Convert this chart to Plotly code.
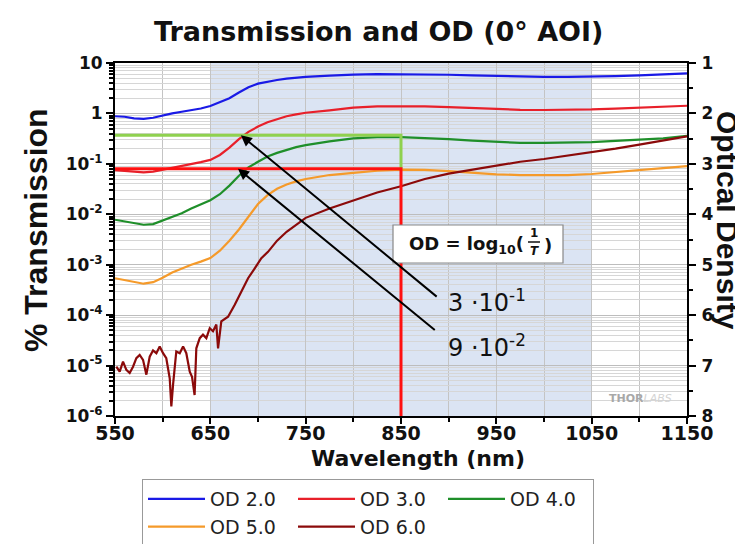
import math
import plotly.graph_objects as go

# ---------------- data ----------------
wl = [550, 560, 570, 580, 590, 600, 610, 620, 630, 640, 650, 660, 670, 680, 690,
      700, 710, 720, 730, 740, 750, 775, 800, 825, 850, 875, 900, 925, 950, 975,
      1000, 1025, 1050, 1075, 1100, 1125, 1150]

od2 = [0.88, 0.86, 0.80, 0.78, 0.82, 0.92, 1.0, 1.08, 1.15, 1.25, 1.4, 1.65, 2.0, 2.6, 3.3,
       3.9, 4.3, 4.6, 4.9, 5.1, 5.3, 5.6, 5.9, 6.0, 6.0, 5.95, 5.85, 5.7, 5.5, 5.35,
       5.3, 5.3, 5.35, 5.5, 5.7, 5.9, 6.2]

od3 = [0.075, 0.072, 0.070, 0.068, 0.070, 0.076, 0.082, 0.090, 0.098, 0.108, 0.12, 0.15, 0.21, 0.31, 0.43,
       0.55, 0.67, 0.78, 0.88, 0.96, 1.03, 1.15, 1.3, 1.38, 1.4, 1.38, 1.33, 1.27, 1.22, 1.18,
       1.17, 1.18, 1.2, 1.25, 1.3, 1.35, 1.42]

od4 = [0.0078, 0.0072, 0.0066, 0.0062, 0.0064, 0.0075, 0.009, 0.0105, 0.013, 0.016, 0.019, 0.025, 0.037, 0.058, 0.085,
       0.11, 0.14, 0.165, 0.19, 0.215, 0.235, 0.28, 0.32, 0.34, 0.34, 0.33, 0.31, 0.29, 0.27, 0.26,
       0.26, 0.265, 0.27, 0.285, 0.30, 0.32, 0.36]

od5 = [5.4e-4, 5.0e-4, 4.5e-4, 4.2e-4, 4.5e-4, 5.5e-4, 7e-4, 8.5e-4, 1.0e-3, 1.15e-3, 1.35e-3, 1.9e-3, 3.0e-3, 5.0e-3, 9e-3,
       1.6e-2, 2.4e-2, 3.2e-2, 3.9e-2, 4.5e-2, 5.0e-2, 6.0e-2, 6.6e-2, 7.3e-2, 7.7e-2, 7.6e-2, 7.2e-2, 6.7e-2, 6.2e-2, 6.0e-2,
       5.9e-2, 6.0e-2, 6.3e-2, 6.8e-2, 7.4e-2, 8.2e-2, 9.0e-2]

wl6 = [551.4, 554.9, 558.4, 561.9, 565.4, 568.9, 572.4, 575.9, 579.4, 582.9, 586.4, 589.9, 593.4, 596.9,
       600.4, 603.8, 607.4, 609.1, 610.9, 614.3, 617.9, 621.4, 624.8, 628.4, 630.8, 633.5, 635.3, 638.9,
       642.3, 645.8, 649.4, 652.8, 656.3, 658.1, 661.5, 668.6, 675.6, 682.5, 689.6, 696.6, 703.5, 710.5,
       720, 730, 740, 750, 775, 800, 825, 850, 875, 900, 925, 950, 975, 1000, 1025, 1050, 1075, 1100, 1125, 1150]
od6 = [9.5e-6, 7.6e-6, 1.2e-5, 8.2e-6, 7.1e-6, 9.5e-6, 1.4e-5, 1.63e-5, 1.3e-5, 6.6e-6, 1.5e-5, 2.0e-5, 1.76e-5, 2.4e-5,
       1.76e-5, 1.4e-5, 5.6e-6, 1.55e-6, 4.2e-6, 1.9e-5, 1.76e-5, 2.4e-5, 1.76e-5, 7.6e-6, 6.0e-6, 2.6e-6, 2.2e-5, 3.5e-5,
       4.1e-5, 3.5e-5, 5.5e-5, 4.8e-5, 6.5e-5, 2.2e-5, 7.5e-5, 9.3e-5, 1.6e-4, 2.9e-4, 5.4e-4, 8.5e-4, 1.35e-3, 1.8e-3,
       3.0e-3, 4.5e-3, 6.2e-3, 8.5e-3, 1.3e-2, 1.9e-2, 2.7e-2, 3.6e-2, 5.0e-2, 6.4e-2, 7.7e-2, 9.0e-2, 0.11, 0.125, 0.145, 0.17, 0.2, 0.24, 0.29, 0.35]

series_names = ["OD 2.0", "OD 3.0", "OD 4.0", "OD 5.0", "OD 6.0"]
series_colors = ["#1a1ae6", "#e8202a", "#1f8f2a", "#f59a2a", "#8b0a0a"]

# highlight lines (wavelength 850 nm, T = 3e-1 and 9e-2)
hl_wl = [550, 850, 850]
hl_green = [0.37, 0.37, 0.08]
hl_red = [0.08, 0.08, 1e-6]

# arrows: head (wl, T) and tail (wl, T)
arrow_heads = [(682, 0.37), (679, 0.08)]
arrow_tails = [(889, 2.2e-4), (887, 4.8e-5)]

y_tickvals = [10, 1, 0.1, 0.01, 1e-3, 1e-4, 1e-5, 1e-6]
y_ticktext = ["<b>10</b>", "<b>1</b>", "<b>10<sup>-1</sup></b>", "<b>10<sup>-2</sup></b>", "<b>10<sup>-3</sup></b>",
              "<b>10<sup>-4</sup></b>", "<b>10<sup>-5</sup></b>", "<b>10<sup>-6</sup></b>"]
od_ticks = [1, 2, 3, 4, 5, 6, 7, 8]
x_ticks = [550, 650, 750, 850, 950, 1050, 1150]

# ---------------- figure ----------------
W, H = 743, 544
L, R, T, B = 107, 64, 55, 136
pw, ph = W - L - R, H - T - B

def px(xp):
    return (xp - L) / pw

def py(yp):
    return (H - B - yp) / ph

HFONT = "DejaVu Sans"
VFONT = "Liberation Sans"

fig = go.Figure()

all_y = [od2, od3, od4, od5]
for name, col, ys in zip(series_names[:4], series_colors[:4], all_y):
    fig.add_trace(go.Scatter(x=wl, y=ys, mode="lines", name=name,
                             line=dict(color=col, width=2.2)))
fig.add_trace(go.Scatter(x=wl6, y=od6, mode="lines", name=series_names[4],
                         line=dict(color=series_colors[4], width=2.2)))

fig.add_trace(go.Scatter(x=hl_wl, y=hl_green, mode="lines", showlegend=False,
                         line=dict(color="#8fd14f", width=3), hoverinfo="skip"))
fig.add_trace(go.Scatter(x=hl_wl, y=hl_red, mode="lines", showlegend=False,
                         line=dict(color="#ff1010", width=3), hoverinfo="skip"))
fig.add_trace(go.Scatter(x=[None], y=[None], yaxis="y2", showlegend=False))

ann = []
for (hx, hy), (tx, ty) in zip(arrow_heads, arrow_tails):
    ann.append(dict(x=hx, y=math.log10(hy), ax=tx, ay=math.log10(ty), xref="x", yref="y",
                    axref="x", ayref="y", text="", showarrow=True, arrowhead=2,
                    arrowsize=1.1, arrowwidth=2, arrowcolor="black"))

ann += [
    dict(text="<b>Transmission and OD (0° AOI)</b>", x=px(370), y=py(24), xref="paper", yref="paper",
         showarrow=False, font=dict(family=HFONT, size=27, color="#111"), xanchor="center", yanchor="middle"),
    dict(text="<b>% Transmission</b>", x=px(28), y=py(222), xref="paper", yref="paper", textangle=-90,
         showarrow=False, font=dict(family=VFONT, size=32, color="#111"), xanchor="center", yanchor="middle"),
    dict(text="<b>Optical Density</b>", x=px(720), y=py(212), xref="paper", yref="paper", textangle=90,
         showarrow=False, font=dict(family=VFONT, size=30, color="#111"), xanchor="center", yanchor="middle"),
    dict(text="<b>Wavelength (nm)</b>", x=px(410), y=py(450), xref="paper", yref="paper",
         showarrow=False, font=dict(family=HFONT, size=22, color="#111"), xanchor="center", yanchor="middle"),
    dict(text="3 ·10<sup>-1</sup>", x=px(438), y=py(293), xref="paper", yref="paper",
         showarrow=False, font=dict(family=HFONT, size=24, color="#111"), xanchor="left", yanchor="middle"),
    dict(text="9 ·10<sup>-2</sup>", x=px(438), y=py(338), xref="paper", yref="paper",
         showarrow=False, font=dict(family=HFONT, size=24, color="#111"), xanchor="left", yanchor="middle"),
    dict(text="<b>OD = log<sub>10</sub>(</b>", x=px(518), y=py(237), xref="paper", yref="paper",
         showarrow=False, font=dict(family=HFONT, size=18, color="#111"), xanchor="right", yanchor="middle"),
    dict(text="<b>1</b>", x=px(526), y=py(225), xref="paper", yref="paper",
         showarrow=False, font=dict(family=HFONT, size=12, color="#111"), xanchor="center", yanchor="middle"),
    dict(text="<b><i>T</i></b>", x=px(526), y=py(243), xref="paper", yref="paper",
         showarrow=False, font=dict(family=HFONT, size=12, color="#111"), xanchor="center", yanchor="middle"),
    dict(text="<b>)</b>", x=px(540), y=py(237), xref="paper", yref="paper",
         showarrow=False, font=dict(family=HFONT, size=18, color="#111"), xanchor="center", yanchor="middle"),
    dict(text="<b>THOR</b><span style='color:#d4d4d4'><i>LABS</i></span>", x=px(632), y=py(390),
         xref="paper", yref="paper", showarrow=False,
         font=dict(family=HFONT, size=11, color="#a8a8a8"), xanchor="center", yanchor="middle"),
]

shapes = [
    dict(type="rect", xref="x", yref="paper", x0=650, x1=1050, y0=0, y1=1,
         fillcolor="#dbe4f3", line=dict(width=0), layer="below"),
    dict(type="rect", xref="paper", yref="paper", x0=px(385), x1=px(555), y0=py(255), y1=py(217),
         fillcolor="white", line=dict(color="#888", width=1.2), layer="above"),
    dict(type="line", xref="paper", yref="paper", x0=px(520), x1=px(532), y0=py(234), y1=py(234),
         line=dict(color="#111", width=1.5), layer="above"),
]

fig.update_layout(
    width=W, height=H,
    margin=dict(l=L, r=R, t=T, b=B, autoexpand=False),
    paper_bgcolor="white", plot_bgcolor="white",
    showlegend=True,
    legend=dict(orientation="h", x=px(134), y=py(471), xanchor="left", yanchor="top",
                bordercolor="#999", borderwidth=1, bgcolor="white",
                font=dict(family=HFONT, size=19, color="#222"),
                itemwidth=57, entrywidth=78, tracegroupgap=0),
    xaxis=dict(range=[550, 1150], tickvals=x_ticks, ticks="outside", ticklen=6, tickwidth=2,
               tickcolor="black", showline=True, linecolor="black", linewidth=2, mirror=True,
               showgrid=True, gridcolor="#c4c4c4", gridwidth=1, zeroline=False, ticklabelstandoff=-7,
               tickfont=dict(family=HFONT, size=19, color="#111", weight="bold"),
               minor=dict(dtick=50, tick0=550, ticks="outside", ticklen=4, tickwidth=2, tickcolor="black",
                          showgrid=True, gridcolor="#c4c4c4", gridwidth=1)),
    yaxis=dict(type="log", range=[-6, 1], tickvals=y_tickvals, ticktext=y_ticktext,
               ticks="outside", ticklen=7, tickwidth=2, tickcolor="black",
               showline=True, linecolor="black", linewidth=2,
               showgrid=True, gridcolor="#bdbdbd", gridwidth=1, zeroline=False,
               tickfont=dict(family=HFONT, size=17, color="#111"),
               minor=dict(dtick="D1", ticks="outside", ticklen=4, tickwidth=1.5, tickcolor="black",
                          showgrid=True, gridcolor="#d6d6d6", gridwidth=1)),
    yaxis2=dict(overlaying="y", side="right", range=[8, 1], tickvals=od_ticks,
                ticks="outside", ticklen=7, tickwidth=2, tickcolor="black",
                showline=True, linecolor="black", linewidth=2, showgrid=False, zeroline=False,
                ticklabelstandoff=2,
                tickfont=dict(family=HFONT, size=17, color="#111", weight="bold"),
                minor=dict(dtick=0.5, ticks="outside", ticklen=4, tickwidth=2, tickcolor="black", showgrid=False)),
    annotations=ann,
    shapes=shapes,
)

fig.write_html("out.html")
